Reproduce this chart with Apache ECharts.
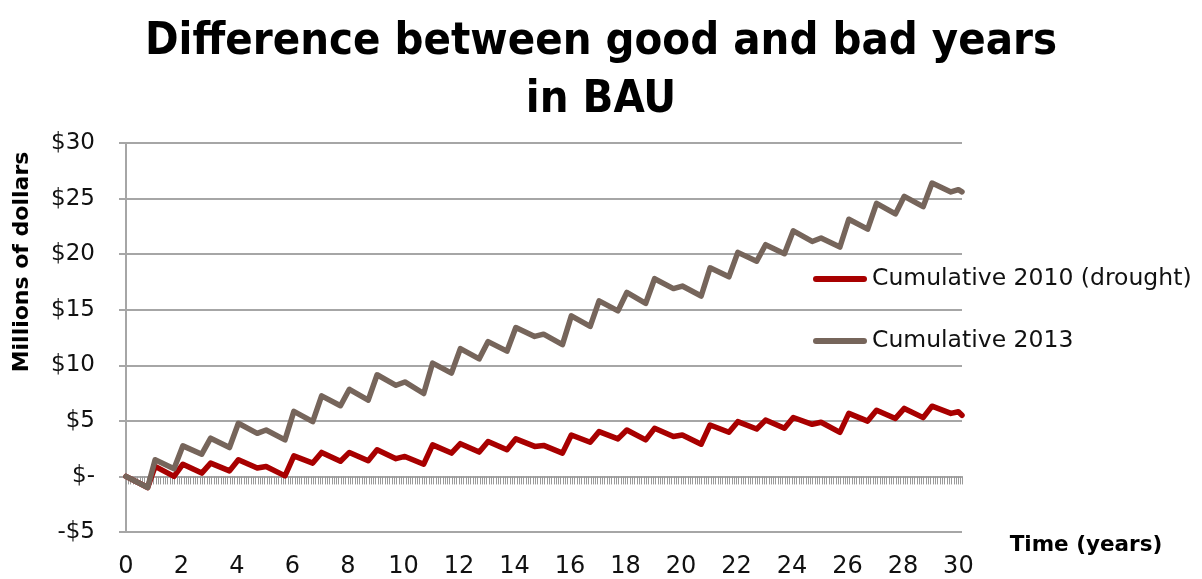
<!DOCTYPE html>
<html>
<head>
<meta charset="utf-8">
<script src="https://cdn.jsdelivr.net/npm/echarts@6/dist/echarts.min.js"></script>
<style>
html,body{margin:0;padding:0;background:#fff;}
#chart{width:1202px;height:579px;}
</style>
</head>
<body>
<div id="chart"></div>
<script>
// Time (years) of each corner point
const years = [0, 0.78,
  1.05, 1.73, 2.05, 2.73, 3.05, 3.73, 4.05, 4.73, 5.05, 5.73,
  6.05, 6.73, 7.05, 7.73, 8.05, 8.73, 9.05, 9.73, 10.05, 10.73,
  11.05, 11.73, 12.05, 12.73, 13.05, 13.73, 14.05, 14.73, 15.05, 15.73,
  16.05, 16.73, 17.05, 17.73, 18.05, 18.73, 19.05, 19.73, 20.05, 20.73,
  21.05, 21.73, 22.05, 22.73, 23.05, 23.73, 24.05, 24.73, 25.05, 25.73,
  26.05, 26.73, 27.05, 27.73, 28.05, 28.73, 29.05, 29.73, 30.0, 30.13];

// Cumulative 2010 (drought), millions of dollars
const cumulative2010 = [0, -1.0,
  0.9, 0.0, 1.1, 0.3, 1.2, 0.5, 1.5, 0.76, 0.9, 0.05,
  1.85, 1.2, 2.16, 1.36, 2.16, 1.41, 2.4, 1.6, 1.8, 1.1,
  2.84, 2.1, 2.95, 2.19, 3.14, 2.4, 3.38, 2.7, 2.79, 2.1,
  3.73, 3.08, 4.03, 3.38, 4.18, 3.29, 4.33, 3.59, 3.73, 2.9,
  4.63, 3.97, 4.93, 4.27, 5.07, 4.33, 5.3, 4.69, 4.87, 3.97,
  5.67, 4.98, 5.96, 5.22, 6.12, 5.29, 6.32, 5.67, 5.82, 5.5];

// Cumulative 2013, millions of dollars
const cumulative2013 = [0, -1.0,
  1.5, 0.7, 2.75, 2.0, 3.44, 2.6, 4.78, 3.88, 4.18, 3.29,
  5.85, 4.93, 7.25, 6.36, 7.84, 6.86, 9.15, 8.2, 8.5, 7.46,
  10.2, 9.3, 11.5, 10.58, 12.13, 11.27, 13.4, 12.6, 12.8, 11.86,
  14.45, 13.5, 15.8, 14.9, 16.55, 15.58, 17.79, 16.9, 17.13, 16.23,
  18.77, 17.96, 20.16, 19.36, 20.85, 20.04, 22.1, 21.14, 21.45, 20.64,
  23.14, 22.25, 24.57, 23.62, 25.2, 24.27, 26.4, 25.6, 25.8, 25.6];

const seriesNames = ['Cumulative 2010 (drought)', 'Cumulative 2013'];
const titleText = 'Difference between good and bad years\nin BAU';
const yAxisTitle = 'Millions of dollars';
const xAxisTitle = 'Time (years)';

const RED = '#a80000';
const BROWN = '#76655b';
const GRID = '#a6a6a6';
const FONT = 'DejaVu Sans';

const chart = echarts.init(document.getElementById('chart'), null, {renderer: 'canvas'});
const pair = arr => years.map((x, i) => [x, arr[i]]);
const xMax = years[years.length - 1];

chart.setOption({
  animation: false,
  backgroundColor: '#ffffff',
  title: {
    text: titleText,
    left: 'center',
    top: 8,
    textStyle: {
      fontFamily: "'DejaVu Sans Condensed', 'Liberation Sans Narrow', Roboto, sans-serif",
      fontWeight: 'bold',
      fontSize: 45,
      lineHeight: 58,
      color: '#000'
    }
  },
  grid: {left: 126, right: 240, top: 143, bottom: 44, containLabel: false},
  legend: {
    orient: 'vertical',
    left: 813,
    top: 266,
    padding: 0,
    itemWidth: 54,
    itemHeight: 6,
    itemGap: 36,
    icon: 'path://M3,0 L51,0 A3,3 0 0 1 51,6 L3,6 A3,3 0 0 1 3,0 Z',
    textStyle: {fontFamily: FONT, fontSize: 23.5, color: '#111', lineHeight: 26},
    data: seriesNames
  },
  xAxis: [
    {
      type: 'value', min: 0, max: xMax, interval: 2,
      position: 'bottom',
      axisLine: {onZero: true, lineStyle: {color: GRID, width: 2}},
      axisTick: {show: true, length: 8, lineStyle: {color: '#9a9a9a', width: 1}},
      minorTick: {show: true, splitNumber: 24, length: 8, lineStyle: {color: '#9a9a9a', width: 1}},
      axisLabel: {show: false},
      splitLine: {show: false}
    },
    {
      type: 'value', min: 0, max: xMax, interval: 2,
      position: 'bottom',
      axisLine: {show: false, onZero: false},
      axisTick: {show: false},
      splitLine: {show: false},
      axisLabel: {
        show: true, showMaxLabel: false, margin: 23,
        fontFamily: FONT, fontSize: 24, color: '#111',
        formatter: v => String(Math.round(v))
      }
    }
  ],
  yAxis: {
    type: 'value', min: -5, max: 30, interval: 5,
    axisLine: {show: true, lineStyle: {color: GRID, width: 2}},
    axisTick: {show: true, length: 7, lineStyle: {color: GRID, width: 2}},
    splitLine: {show: true, lineStyle: {color: GRID, width: 2}},
    axisLabel: {
      margin: 31, fontFamily: FONT, fontSize: 23, color: '#111',
      formatter: v => v === 0 ? '$-' : (v < 0 ? '-$' + Math.abs(v) : '$' + v)
    }
  },
  graphic: [
    {
      type: 'text', x: 22, y: 262, rotation: Math.PI / 2,
      style: {text: yAxisTitle, fontFamily: FONT, fontWeight: 'bold', fontSize: 22,
        fill: '#000', textAlign: 'center', textVerticalAlign: 'middle'}
    },
    {
      type: 'text', x: 1086, y: 545,
      style: {text: xAxisTitle, fontFamily: FONT, fontWeight: 'bold', fontSize: 21.5,
        fill: '#000', textAlign: 'center', textVerticalAlign: 'middle'}
    }
  ],
  series: [
    {
      name: seriesNames[0], type: 'line', xAxisIndex: 0,
      showSymbol: false, symbol: 'none',
      lineStyle: {color: RED, width: 5.5, join: 'round', cap: 'round'},
      itemStyle: {color: RED},
      data: pair(cumulative2010)
    },
    {
      name: seriesNames[1], type: 'line', xAxisIndex: 0,
      showSymbol: false, symbol: 'none',
      lineStyle: {color: BROWN, width: 5.5, join: 'round', cap: 'round'},
      itemStyle: {color: BROWN},
      data: pair(cumulative2013)
    }
  ]
});
</script>
</body>
</html>
